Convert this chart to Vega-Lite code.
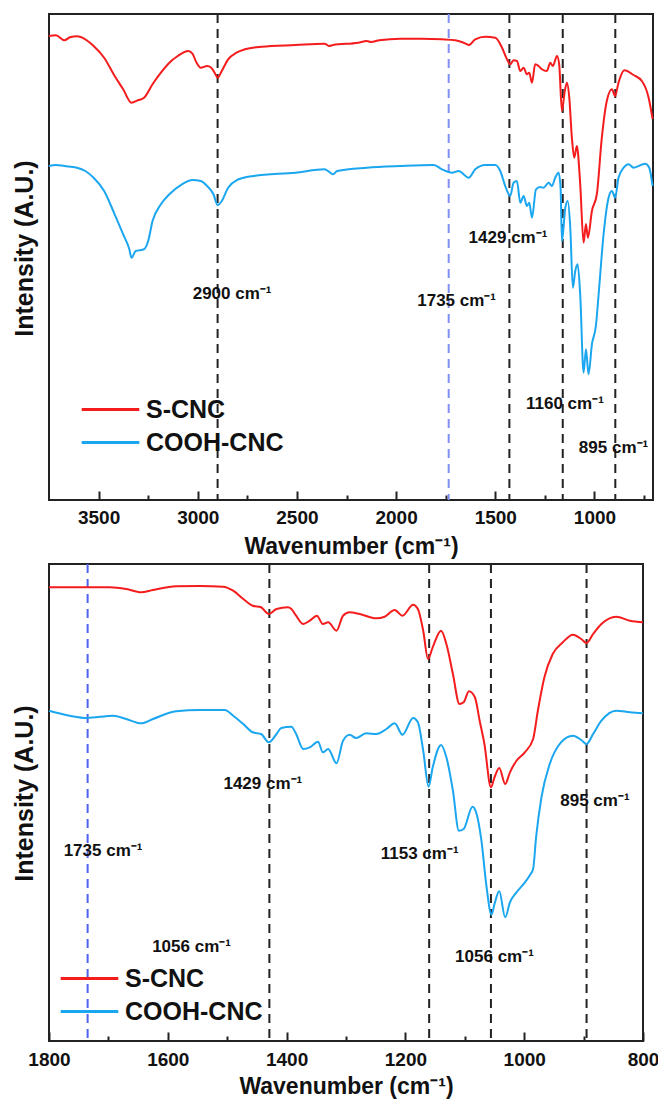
{
  "$schema": "https://vega.github.io/schema/vega-lite/v6.json",
  "padding": {"left": 11, "top": 12, "right": 5, "bottom": 0},
  "spacing": 3,
  "config": {
    "font": "Liberation Sans",
    "view": {"stroke": "#222222", "strokeWidth": 2},
    "axis": {"grid": false, "domain": false, "labelFont": "Liberation Sans", "titleFont": "Liberation Sans", "labelColor": "#111111", "titleColor": "#111111", "tickColor": "#222222", "tickWidth": 2}
  },
  "resolve": {"scale": {"x": "independent", "y": "independent", "color": "independent", "stroke": "independent"}, "legend": {"color": "independent"}},
  "datasets": {
    "top": [
      {"s":"S-CNC","wn":3751,"v":464},{"s":"S-CNC","wn":3715,"v":464.7},{"s":"S-CNC","wn":3673,"v":459.7},{"s":"S-CNC","wn":3641,"v":463},{"s":"S-CNC","wn":3609,"v":463.7},{"s":"S-CNC","wn":3567,"v":460.7},{"s":"S-CNC","wn":3525,"v":454},{"s":"S-CNC","wn":3472,"v":442.3},{"s":"S-CNC","wn":3419,"v":424},{"s":"S-CNC","wn":3376,"v":410.7},{"s":"S-CNC","wn":3334,"v":397.3},{"s":"S-CNC","wn":3302,"v":399.7},{"s":"S-CNC","wn":3271,"v":402.3},{"s":"S-CNC","wn":3228,"v":415.7},{"s":"S-CNC","wn":3186,"v":427.3},{"s":"S-CNC","wn":3143,"v":437.3},{"s":"S-CNC","wn":3101,"v":444},{"s":"S-CNC","wn":3048,"v":449},{"s":"S-CNC","wn":3027,"v":446.3},{"s":"S-CNC","wn":3006,"v":437.3},{"s":"S-CNC","wn":2985,"v":432.3},{"s":"S-CNC","wn":2953,"v":434},{"s":"S-CNC","wn":2932,"v":432.3},{"s":"S-CNC","wn":2911,"v":425.7},{"s":"S-CNC","wn":2900,"v":422.3},{"s":"S-CNC","wn":2879,"v":429},{"s":"S-CNC","wn":2847,"v":440.7},{"s":"S-CNC","wn":2805,"v":447.3},{"s":"S-CNC","wn":2762,"v":450.7},{"s":"S-CNC","wn":2678,"v":453.3},{"s":"S-CNC","wn":2508,"v":455},{"s":"S-CNC","wn":2360,"v":456.3},{"s":"S-CNC","wn":2339,"v":454},{"s":"S-CNC","wn":2318,"v":455},{"s":"S-CNC","wn":2191,"v":457.3},{"s":"S-CNC","wn":2148,"v":459},{"s":"S-CNC","wn":2127,"v":458},{"s":"S-CNC","wn":2085,"v":459.7},{"s":"S-CNC","wn":1979,"v":461.3},{"s":"S-CNC","wn":1873,"v":461.3},{"s":"S-CNC","wn":1769,"v":460.7},{"s":"S-CNC","wn":1702,"v":459.7},{"s":"S-CNC","wn":1659,"v":457.3},{"s":"S-CNC","wn":1634,"v":455},{"s":"S-CNC","wn":1601,"v":460.7},{"s":"S-CNC","wn":1551,"v":463.3},{"s":"S-CNC","wn":1500,"v":462.3},{"s":"S-CNC","wn":1466,"v":452.3},{"s":"S-CNC","wn":1441,"v":440.7},{"s":"S-CNC","wn":1425,"v":435.7},{"s":"S-CNC","wn":1408,"v":439.7},{"s":"S-CNC","wn":1391,"v":439},{"s":"S-CNC","wn":1374,"v":429},{"s":"S-CNC","wn":1357,"v":432.3},{"s":"S-CNC","wn":1341,"v":425.7},{"s":"S-CNC","wn":1329,"v":427.3},{"s":"S-CNC","wn":1315,"v":417.3},{"s":"S-CNC","wn":1299,"v":435.7},{"s":"S-CNC","wn":1282,"v":434},{"s":"S-CNC","wn":1265,"v":430.7},{"s":"S-CNC","wn":1240,"v":429},{"s":"S-CNC","wn":1223,"v":437.3},{"s":"S-CNC","wn":1210,"v":434},{"s":"S-CNC","wn":1189,"v":444},{"s":"S-CNC","wn":1178,"v":435.7},{"s":"S-CNC","wn":1164,"v":389},{"s":"S-CNC","wn":1151,"v":407.3},{"s":"S-CNC","wn":1139,"v":417.3},{"s":"S-CNC","wn":1127,"v":402.3},{"s":"S-CNC","wn":1114,"v":362.3},{"s":"S-CNC","wn":1102,"v":342.3},{"s":"S-CNC","wn":1089,"v":354},{"s":"S-CNC","wn":1072,"v":316},{"s":"S-CNC","wn":1055,"v":257.3},{"s":"S-CNC","wn":1043,"v":276},{"s":"S-CNC","wn":1033,"v":262.3},{"s":"S-CNC","wn":1013,"v":289},{"s":"S-CNC","wn":988,"v":306},{"s":"S-CNC","wn":963,"v":362.3},{"s":"S-CNC","wn":938,"v":399},{"s":"S-CNC","wn":912,"v":410.7},{"s":"S-CNC","wn":896,"v":404},{"s":"S-CNC","wn":879,"v":417.3},{"s":"S-CNC","wn":849,"v":429.7},{"s":"S-CNC","wn":803,"v":425},{"s":"S-CNC","wn":761,"v":419},{"s":"S-CNC","wn":727,"v":402.3},{"s":"S-CNC","wn":707,"v":381},
      {"s":"COOH-CNC","wn":3751,"v":334},{"s":"COOH-CNC","wn":3715,"v":335},{"s":"COOH-CNC","wn":3673,"v":334},{"s":"COOH-CNC","wn":3609,"v":332.3},{"s":"COOH-CNC","wn":3567,"v":329},{"s":"COOH-CNC","wn":3525,"v":322.3},{"s":"COOH-CNC","wn":3472,"v":309},{"s":"COOH-CNC","wn":3419,"v":285.7},{"s":"COOH-CNC","wn":3376,"v":265.7},{"s":"COOH-CNC","wn":3345,"v":250.7},{"s":"COOH-CNC","wn":3334,"v":242.3},{"s":"COOH-CNC","wn":3313,"v":249},{"s":"COOH-CNC","wn":3271,"v":250.7},{"s":"COOH-CNC","wn":3250,"v":259},{"s":"COOH-CNC","wn":3228,"v":279},{"s":"COOH-CNC","wn":3186,"v":295.7},{"s":"COOH-CNC","wn":3143,"v":305.7},{"s":"COOH-CNC","wn":3080,"v":315.7},{"s":"COOH-CNC","wn":3027,"v":320},{"s":"COOH-CNC","wn":2985,"v":319},{"s":"COOH-CNC","wn":2953,"v":314},{"s":"COOH-CNC","wn":2921,"v":305.7},{"s":"COOH-CNC","wn":2900,"v":295},{"s":"COOH-CNC","wn":2879,"v":299},{"s":"COOH-CNC","wn":2847,"v":312.3},{"s":"COOH-CNC","wn":2805,"v":319.7},{"s":"COOH-CNC","wn":2720,"v":324},{"s":"COOH-CNC","wn":2508,"v":327.3},{"s":"COOH-CNC","wn":2360,"v":330.7},{"s":"COOH-CNC","wn":2339,"v":328.3},{"s":"COOH-CNC","wn":2318,"v":325.7},{"s":"COOH-CNC","wn":2297,"v":329},{"s":"COOH-CNC","wn":2148,"v":332.3},{"s":"COOH-CNC","wn":1979,"v":334},{"s":"COOH-CNC","wn":1810,"v":335},{"s":"COOH-CNC","wn":1769,"v":330.7},{"s":"COOH-CNC","wn":1718,"v":327.3},{"s":"COOH-CNC","wn":1685,"v":329},{"s":"COOH-CNC","wn":1634,"v":322.3},{"s":"COOH-CNC","wn":1601,"v":330.7},{"s":"COOH-CNC","wn":1551,"v":335},{"s":"COOH-CNC","wn":1500,"v":335},{"s":"COOH-CNC","wn":1475,"v":329},{"s":"COOH-CNC","wn":1450,"v":314},{"s":"COOH-CNC","wn":1425,"v":304},{"s":"COOH-CNC","wn":1408,"v":317.3},{"s":"COOH-CNC","wn":1391,"v":319},{"s":"COOH-CNC","wn":1374,"v":297.3},{"s":"COOH-CNC","wn":1357,"v":304},{"s":"COOH-CNC","wn":1341,"v":294},{"s":"COOH-CNC","wn":1329,"v":297.3},{"s":"COOH-CNC","wn":1315,"v":282.3},{"s":"COOH-CNC","wn":1295,"v":310.7},{"s":"COOH-CNC","wn":1274,"v":313},{"s":"COOH-CNC","wn":1257,"v":312.3},{"s":"COOH-CNC","wn":1231,"v":317.3},{"s":"COOH-CNC","wn":1215,"v":314},{"s":"COOH-CNC","wn":1198,"v":322.3},{"s":"COOH-CNC","wn":1181,"v":327.3},{"s":"COOH-CNC","wn":1171,"v":312.3},{"s":"COOH-CNC","wn":1164,"v":259},{"s":"COOH-CNC","wn":1147,"v":292.3},{"s":"COOH-CNC","wn":1135,"v":299},{"s":"COOH-CNC","wn":1122,"v":272.3},{"s":"COOH-CNC","wn":1109,"v":212.3},{"s":"COOH-CNC","wn":1097,"v":229},{"s":"COOH-CNC","wn":1085,"v":235.7},{"s":"COOH-CNC","wn":1072,"v":205.7},{"s":"COOH-CNC","wn":1055,"v":127.3},{"s":"COOH-CNC","wn":1043,"v":150.7},{"s":"COOH-CNC","wn":1030,"v":125.7},{"s":"COOH-CNC","wn":1013,"v":155.7},{"s":"COOH-CNC","wn":993,"v":174},{"s":"COOH-CNC","wn":979,"v":206},{"s":"COOH-CNC","wn":954,"v":266},{"s":"COOH-CNC","wn":929,"v":302.3},{"s":"COOH-CNC","wn":912,"v":309},{"s":"COOH-CNC","wn":896,"v":302.3},{"s":"COOH-CNC","wn":879,"v":322.3},{"s":"COOH-CNC","wn":853,"v":332.3},{"s":"COOH-CNC","wn":828,"v":335.7},{"s":"COOH-CNC","wn":803,"v":332.3},{"s":"COOH-CNC","wn":744,"v":336.3},{"s":"COOH-CNC","wn":724,"v":332.3},{"s":"COOH-CNC","wn":707,"v":314}
    ],
    "bottom": [
      {"s":"S-CNC","wn":1800,"v":453.7},{"s":"S-CNC","wn":1754,"v":453.7},{"s":"S-CNC","wn":1698,"v":453.7},{"s":"S-CNC","wn":1670,"v":452},{"s":"S-CNC","wn":1645,"v":448.7},{"s":"S-CNC","wn":1625,"v":451},{"s":"S-CNC","wn":1586,"v":454.7},{"s":"S-CNC","wn":1546,"v":455},{"s":"S-CNC","wn":1507,"v":454.3},{"s":"S-CNC","wn":1490,"v":450.3},{"s":"S-CNC","wn":1473,"v":442},{"s":"S-CNC","wn":1457,"v":435.3},{"s":"S-CNC","wn":1443,"v":433.7},{"s":"S-CNC","wn":1430,"v":427},{"s":"S-CNC","wn":1417,"v":432},{"s":"S-CNC","wn":1398,"v":433.7},{"s":"S-CNC","wn":1392,"v":432},{"s":"S-CNC","wn":1384,"v":425.3},{"s":"S-CNC","wn":1372,"v":417},{"s":"S-CNC","wn":1361,"v":420.3},{"s":"S-CNC","wn":1349,"v":425.3},{"s":"S-CNC","wn":1339,"v":417},{"s":"S-CNC","wn":1330,"v":418.7},{"s":"S-CNC","wn":1316,"v":410.3},{"s":"S-CNC","wn":1305,"v":425.3},{"s":"S-CNC","wn":1294,"v":428.7},{"s":"S-CNC","wn":1277,"v":427},{"s":"S-CNC","wn":1249,"v":422.7},{"s":"S-CNC","wn":1235,"v":424.3},{"s":"S-CNC","wn":1218,"v":431},{"s":"S-CNC","wn":1205,"v":425.3},{"s":"S-CNC","wn":1187,"v":436.3},{"s":"S-CNC","wn":1179,"v":432},{"s":"S-CNC","wn":1170,"v":410.3},{"s":"S-CNC","wn":1162,"v":382},{"s":"S-CNC","wn":1154,"v":393.7},{"s":"S-CNC","wn":1140,"v":410.3},{"s":"S-CNC","wn":1131,"v":397},{"s":"S-CNC","wn":1120,"v":367},{"s":"S-CNC","wn":1109,"v":337},{"s":"S-CNC","wn":1102,"v":338.7},{"s":"S-CNC","wn":1093,"v":349.7},{"s":"S-CNC","wn":1083,"v":343.7},{"s":"S-CNC","wn":1075,"v":320.3},{"s":"S-CNC","wn":1067,"v":297},{"s":"S-CNC","wn":1056,"v":253.7},{"s":"S-CNC","wn":1050,"v":263.7},{"s":"S-CNC","wn":1042,"v":273},{"s":"S-CNC","wn":1032,"v":257},{"s":"S-CNC","wn":1024,"v":268.7},{"s":"S-CNC","wn":1013,"v":280.3},{"s":"S-CNC","wn":999,"v":288.7},{"s":"S-CNC","wn":985,"v":302},{"s":"S-CNC","wn":977,"v":330.3},{"s":"S-CNC","wn":966,"v":363.7},{"s":"S-CNC","wn":952,"v":387},{"s":"S-CNC","wn":935,"v":398.7},{"s":"S-CNC","wn":918,"v":406.3},{"s":"S-CNC","wn":904,"v":402},{"s":"S-CNC","wn":895,"v":398},{"s":"S-CNC","wn":884,"v":407},{"s":"S-CNC","wn":870,"v":417},{"s":"S-CNC","wn":845,"v":424.3},{"s":"S-CNC","wn":822,"v":420.3},{"s":"S-CNC","wn":800,"v":418.7},
      {"s":"COOH-CNC","wn":1800,"v":330.3},{"s":"COOH-CNC","wn":1765,"v":325.3},{"s":"COOH-CNC","wn":1736,"v":323},{"s":"COOH-CNC","wn":1692,"v":325.3},{"s":"COOH-CNC","wn":1670,"v":322},{"s":"COOH-CNC","wn":1645,"v":317.7},{"s":"COOH-CNC","wn":1625,"v":322},{"s":"COOH-CNC","wn":1586,"v":329.7},{"s":"COOH-CNC","wn":1546,"v":331},{"s":"COOH-CNC","wn":1504,"v":331},{"s":"COOH-CNC","wn":1490,"v":325.3},{"s":"COOH-CNC","wn":1473,"v":317},{"s":"COOH-CNC","wn":1457,"v":308.7},{"s":"COOH-CNC","wn":1443,"v":307},{"s":"COOH-CNC","wn":1430,"v":298.7},{"s":"COOH-CNC","wn":1417,"v":307},{"s":"COOH-CNC","wn":1409,"v":313},{"s":"COOH-CNC","wn":1392,"v":314.3},{"s":"COOH-CNC","wn":1384,"v":307},{"s":"COOH-CNC","wn":1372,"v":292},{"s":"COOH-CNC","wn":1361,"v":293.7},{"s":"COOH-CNC","wn":1347,"v":299.3},{"s":"COOH-CNC","wn":1339,"v":288.7},{"s":"COOH-CNC","wn":1330,"v":292},{"s":"COOH-CNC","wn":1316,"v":277.7},{"s":"COOH-CNC","wn":1305,"v":300.3},{"s":"COOH-CNC","wn":1294,"v":306.3},{"s":"COOH-CNC","wn":1283,"v":303},{"s":"COOH-CNC","wn":1266,"v":307.7},{"s":"COOH-CNC","wn":1249,"v":307},{"s":"COOH-CNC","wn":1232,"v":312},{"s":"COOH-CNC","wn":1218,"v":317.7},{"s":"COOH-CNC","wn":1205,"v":306.3},{"s":"COOH-CNC","wn":1187,"v":323},{"s":"COOH-CNC","wn":1179,"v":318.7},{"s":"COOH-CNC","wn":1170,"v":290.3},{"s":"COOH-CNC","wn":1161,"v":254.3},{"s":"COOH-CNC","wn":1154,"v":273.7},{"s":"COOH-CNC","wn":1140,"v":296},{"s":"COOH-CNC","wn":1131,"v":283.7},{"s":"COOH-CNC","wn":1120,"v":250.3},{"s":"COOH-CNC","wn":1110,"v":210.3},{"s":"COOH-CNC","wn":1102,"v":212},{"s":"COOH-CNC","wn":1087,"v":234.3},{"s":"COOH-CNC","wn":1081,"v":228.7},{"s":"COOH-CNC","wn":1072,"v":200.3},{"s":"COOH-CNC","wn":1064,"v":157},{"s":"COOH-CNC","wn":1055,"v":126.3},{"s":"COOH-CNC","wn":1050,"v":137},{"s":"COOH-CNC","wn":1042,"v":149.7},{"s":"COOH-CNC","wn":1032,"v":123.7},{"s":"COOH-CNC","wn":1024,"v":138.7},{"s":"COOH-CNC","wn":1013,"v":148.7},{"s":"COOH-CNC","wn":1002,"v":156.3},{"s":"COOH-CNC","wn":991,"v":165.3},{"s":"COOH-CNC","wn":985,"v":172},{"s":"COOH-CNC","wn":980,"v":203.7},{"s":"COOH-CNC","wn":971,"v":243.7},{"s":"COOH-CNC","wn":957,"v":277},{"s":"COOH-CNC","wn":938,"v":298.7},{"s":"COOH-CNC","wn":918,"v":305.3},{"s":"COOH-CNC","wn":904,"v":301},{"s":"COOH-CNC","wn":895,"v":297},{"s":"COOH-CNC","wn":884,"v":307},{"s":"COOH-CNC","wn":870,"v":320.3},{"s":"COOH-CNC","wn":845,"v":330.3},{"s":"COOH-CNC","wn":822,"v":328.7},{"s":"COOH-CNC","wn":800,"v":327.7}
    ],
    "rulesTop": [{"wn":2900,"k":"black"},{"wn":1735,"k":"blue"},{"wn":1429,"k":"black"},{"wn":1160,"k":"black"},{"wn":895,"k":"black"}],
    "rulesBottom": [{"wn":1735,"k":"blue"},{"wn":1429,"k":"black"},{"wn":1160,"k":"black"},{"wn":1056,"k":"black"},{"wn":895,"k":"black"}],
    "labelsTop": [{"wn":2827,"v":206,"t":"2900 cm⁻¹"},{"wn":1695,"v":199,"t":"1735 cm⁻¹"},{"wn":1436,"v":262,"t":"1429 cm⁻¹"},{"wn":1149,"v":96,"t":"1160 cm⁻¹"},{"wn":904,"v":52,"t":"895 cm⁻¹"}],
    "labelsBottom": [{"wn":1440,"v":257,"t":"1429 cm⁻¹"},{"wn":1709,"v":190,"t":"1735 cm⁻¹"},{"wn":1560,"v":94,"t":"1056 cm⁻¹"},{"wn":1176,"v":187,"t":"1153 cm⁻¹"},{"wn":1050,"v":84,"t":"1056 cm⁻¹"},{"wn":881,"v":240,"t":"895 cm⁻¹"}]
  },
  "vconcat": [
    {
      "width": 604,
      "height": 486,
      "resolve": {"axis": {"x": "independent"}},
      "encoding": {
        "y": {"field": "v", "type": "quantitative", "scale": {"domain": [0, 486], "nice": false, "zero": false},
          "axis": {"title": "Intensity (A.U.)", "labels": false, "ticks": false, "titleFontSize": 25, "titleFontWeight": "bold", "titlePadding": 12, "titleY": 234}}
      },
      "layer": [
        {"data": {"name": "rulesTop"}, "mark": {"type": "rule", "strokeDash": [9, 6], "strokeWidth": 2},
          "encoding": {
            "x": {"field": "wn", "type": "quantitative", "scale": {"domain": [3750, 705], "nice": false, "zero": false},
              "axis": {"orient": "bottom", "title": null, "labels": false, "values": [3250, 2750, 2250, 1750, 1250, 750], "tickSize": 5, "offset": -5}},
            "y": null,
            "stroke": {"field": "k", "type": "nominal", "scale": {"domain": ["black", "blue"], "range": ["#222222", "#7f8ff2"]}, "legend": null}}},
        {"data": {"name": "top"}, "mark": {"type": "line", "strokeWidth": 2, "interpolate": "monotone"},
          "encoding": {
            "x": {"field": "wn", "type": "quantitative", "scale": {"domain": [3750, 705], "nice": false, "zero": false},
              "axis": {"orient": "bottom", "title": "Wavenumber (cm⁻¹)", "values": [3500, 3000, 2500, 2000, 1500, 1000], "labelOverlap": false, "labelFlush": false, "tickSize": 9, "offset": -9,
                "labelFontSize": 19, "labelFontWeight": "bold", "labelPadding": 8, "format": "d", "titleFontSize": 23, "titleFontWeight": "bold", "titlePadding": 8}},
            "color": {"field": "s", "type": "nominal", "scale": {"domain": ["S-CNC", "COOH-CNC"], "range": ["#f41c1c", "#1ba6f0"]},
            "legend": {"title": null, "orient": "none", "legendX": 44, "legendY": 378, "symbolType": "M-1.8,0H1.8", "symbolSize": 1024, "symbolStrokeWidth": 3, "labelFontSize": 25, "labelFontWeight": "bold", "labelColor": "#111111", "labelFont": "Liberation Sans", "labelOffset": 18, "labelLimit": 300}}}},
        {"data": {"name": "labelsTop"}, "mark": {"type": "text", "fontSize": 17, "fontWeight": "bold", "color": "#111111", "align": "center", "baseline": "middle"},
          "encoding": {"x": {"field": "wn", "type": "quantitative", "scale": {"domain": [3750, 705], "nice": false, "zero": false}, "axis": null}, "text": {"field": "t"}}}
      ]
    },
    {
      "width": 594,
      "height": 477,
      "resolve": {"axis": {"x": "independent"}},
      "encoding": {
        "y": {"field": "v", "type": "quantitative", "scale": {"domain": [0, 477], "nice": false, "zero": false},
          "axis": {"title": "Intensity (A.U.)", "labels": false, "ticks": false, "titleFontSize": 25, "titleFontWeight": "bold", "titlePadding": 12, "titleY": 229}}
      },
      "layer": [
        {"data": {"name": "rulesBottom"}, "mark": {"type": "rule", "strokeDash": [9, 6], "strokeWidth": 2},
          "encoding": {
            "x": {"field": "wn", "type": "quantitative", "scale": {"domain": [1800, 800], "nice": false, "zero": false},
              "axis": {"orient": "bottom", "title": null, "labels": false, "values": [1700, 1500, 1300, 1100, 900], "tickSize": 5, "offset": -5}},
            "y": null,
            "stroke": {"field": "k", "type": "nominal", "scale": {"domain": ["black", "blue"], "range": ["#222222", "#4f62f0"]}, "legend": null}}},
        {"data": {"name": "bottom"}, "mark": {"type": "line", "strokeWidth": 2, "interpolate": "monotone"},
          "encoding": {
            "x": {"field": "wn", "type": "quantitative", "scale": {"domain": [1800, 800], "nice": false, "zero": false},
              "axis": {"orient": "bottom", "title": "Wavenumber (cm⁻¹)", "values": [1800, 1600, 1400, 1200, 1000, 800], "labelOverlap": false, "labelFlush": false, "tickSize": 9, "offset": -9,
                "labelFontSize": 19, "labelFontWeight": "bold", "labelPadding": 9, "format": "d", "titleFontSize": 23, "titleFontWeight": "bold", "titlePadding": 6}},
            "color": {"field": "s", "type": "nominal", "scale": {"domain": ["S-CNC", "COOH-CNC"], "range": ["#f41c1c", "#1ba6f0"]},
            "legend": {"title": null, "orient": "none", "legendX": 23, "legendY": 397, "symbolType": "M-1.8,0H1.8", "symbolSize": 1024, "symbolStrokeWidth": 3, "labelFontSize": 25, "labelFontWeight": "bold", "labelColor": "#111111", "labelFont": "Liberation Sans", "labelOffset": 18, "labelLimit": 300}}}},
        {"data": {"name": "labelsBottom"}, "mark": {"type": "text", "fontSize": 17, "fontWeight": "bold", "color": "#111111", "align": "center", "baseline": "middle"},
          "encoding": {"x": {"field": "wn", "type": "quantitative", "scale": {"domain": [1800, 800], "nice": false, "zero": false}, "axis": null}, "text": {"field": "t"}}}
      ]
    }
  ]
}
